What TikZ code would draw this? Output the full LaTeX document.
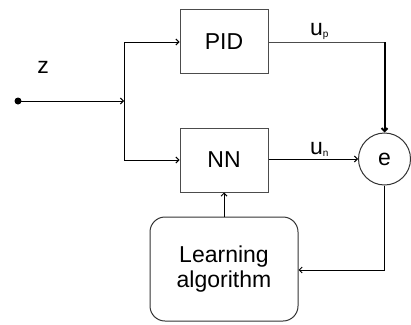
\documentclass[tikz,border=0pt]{standalone}
\usepackage{fontspec}
\setmainfont{Liberation Sans}
\usetikzlibrary{arrows.meta}
\begin{document}
\begin{tikzpicture}[x=1pt,y=-1pt,
  blk/.style={draw=black!70,line width=1pt,minimum width=88pt,minimum height=64pt,inner sep=0pt,font=\fontsize{23}{26}\selectfont},
  lrn/.style={draw=black!80,line width=1pt,rounded corners=15pt,minimum width=148pt,minimum height=104pt,inner sep=0pt,align=center,font=\fontsize{23}{25}\selectfont},
  sumc/.style={circle,draw=black!80,line width=1pt,minimum size=52pt,inner sep=0pt,font=\fontsize{23}{26}\selectfont},
  lbl/.style={inner sep=0pt,font=\fontsize{23}{26}\selectfont},
  conn/.style={line width=1pt,-{Straight Barb[length=3pt,width=6pt]}},
  wire/.style={line width=1pt}]
\useasboundingbox (0,0) rectangle (411,324);
\node[blk] (pid) at (224,41.5) {PID};
\node[blk] (nn) at (224,160) {NN};
\node[sumc] (e) at (384.5,159) {e};
\node[lrn] (la) at (224,269) {Learning\\algorithm};
\fill (18,101) circle (3.5pt);
\coordinate (in) at (18,101);
\coordinate (sp) at (124,101);
\coordinate (spt) at (124,42);
\coordinate (spb) at (124,160);
\coordinate (cr) at (384.5,42);
\coordinate (eb) at (384.5,270);
\node[lbl] at (43,67) {z};
\node[lbl,anchor=base west] at (310,35) {u\raisebox{-2pt}{\fontsize{10}{10}\selectfont p}};
\node[lbl,anchor=base west] at (310,154) {u\raisebox{-2pt}{\fontsize{10}{10}\selectfont n}};
\draw[conn] (in) -- (sp);
\draw[wire] (spt) -- (spb);
\draw[conn] (spt) -- (pid.west |- spt);
\draw[conn] (spb) -- (nn.west |- spb);
\draw[wire,black!70] (pid.east |- cr) -- (cr);
\draw[line width=2pt,-{Straight Barb[length=3pt,width=6pt]}] (cr) -- (e.north);
\draw[conn] (nn.east |- e) -- (e.west);
\draw[wire] (e.south) -- (eb);
\draw[conn] (eb) -- (la.east |- eb);
\draw[conn] (la.north) -- (nn.south);
\end{tikzpicture}
\end{document}
